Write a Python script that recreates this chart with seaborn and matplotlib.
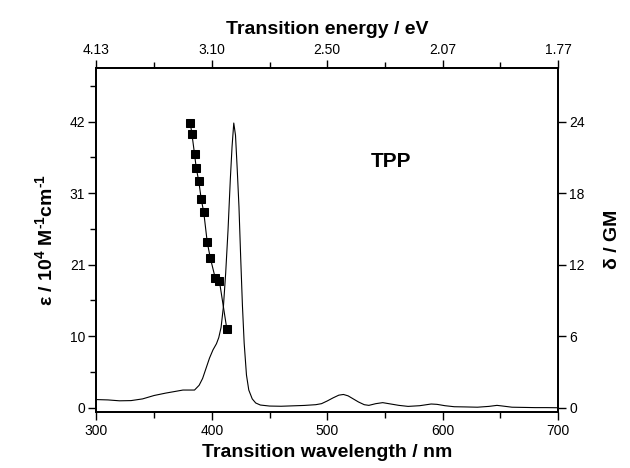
import matplotlib
matplotlib.use("Agg")
import matplotlib.pyplot as plt
import seaborn as sns
import pandas as pd
from matplotlib.ticker import FixedLocator, FixedFormatter

# One-photon absorption spectrum of TPP (molar extinction, 10^4 M^-1 cm^-1)
abs_wavelength = [300, 310, 320, 330, 340, 350, 360, 370, 375, 380, 385, 389, 392,
                  395, 398, 401, 404, 406, 408, 410, 412, 414, 416, 417.5, 419,
                  420.5, 422, 423.5, 425, 426.5, 428, 430, 432, 435, 438, 442, 450,
                  460, 470, 480, 490, 495, 500, 505, 510, 514, 518, 522, 527, 532,
                  536, 542, 548, 555, 562, 570, 580, 590, 595, 602, 610, 620, 630,
                  640, 647, 652, 660, 670, 680, 690, 700]
abs_epsilon = [1.2, 1.15, 1.02, 1.05, 1.3, 1.8, 2.15, 2.45, 2.6, 2.6, 2.6, 3.3, 4.3,
               5.8, 7.3, 8.5, 9.4, 10.3, 11.8, 14.8, 19.8, 26.0, 33.5, 38.3, 41.8,
               40.0, 35.0, 29.5, 22.0, 15.0, 9.5, 4.8, 2.6, 1.3, 0.7, 0.4, 0.25,
               0.22, 0.28, 0.34, 0.45, 0.6, 1.0, 1.45, 1.85, 1.95, 1.75, 1.35, 0.85,
               0.45, 0.35, 0.6, 0.75, 0.55, 0.35, 0.2, 0.3, 0.55, 0.5, 0.3, 0.15,
               0.12, 0.08, 0.2, 0.35, 0.25, 0.08, 0.05, 0.02, 0.02, 0.0]

# Two-photon absorption cross-section (GM), plotted at half the excitation wavelength
tpa_wavelength = [381.3, 382.7, 385.0, 386.5, 388.7, 390.8, 393.0, 396.0, 398.6,
                  402.9, 406.6, 413.0]
tpa_cross_section = [23.9, 23.0, 21.3, 20.1, 19.0, 17.5, 16.4, 13.9, 12.6, 10.9,
                     10.6, 6.6]

wl_ticks = [300, 400, 500, 600, 700]
wl_minor = [350, 450, 550, 650]
energy_labels = ["4.13", "3.10", "2.50", "2.07", "1.77"]
eps_ticks = [0, 10.5, 21, 31.5, 42]
eps_labels = ["0", "10", "21", "31", "42"]
eps_minor = [5.25, 15.75, 26.25, 36.75, 47.25]
gm_ticks = [0, 6, 12, 18, 24]

sns.set_theme(style="ticks")
plt.rcParams["font.family"] = ["Liberation Sans", "DejaVu Sans"]
plt.rcParams["text.color"] = "black"
plt.rcParams["axes.labelcolor"] = "black"
plt.rcParams["mathtext.fontset"] = "custom"
plt.rcParams["mathtext.rm"] = "Liberation Sans:bold"
plt.rcParams["mathtext.bf"] = "Liberation Sans:bold"
plt.rcParams["mathtext.default"] = "regular"

abs_df = pd.DataFrame({"wavelength": abs_wavelength, "epsilon": abs_epsilon})
tpa_df = pd.DataFrame({"wavelength": tpa_wavelength, "gm": tpa_cross_section})

fig = plt.figure(figsize=(6.3, 4.68), dpi=100)
ax = fig.add_axes([0.153, 0.12, 0.733, 0.735])

sns.lineplot(data=abs_df, x="wavelength", y="epsilon", ax=ax, color="black",
             linewidth=0.8, sort=False)

ax.set_xlim(300, 700)
ax.set_ylim(-0.6, 49.9)
ax.xaxis.set_major_locator(FixedLocator(wl_ticks))
ax.xaxis.set_minor_locator(FixedLocator(wl_minor))
ax.yaxis.set_major_locator(FixedLocator(eps_ticks))
ax.yaxis.set_major_formatter(FixedFormatter(eps_labels))
ax.yaxis.set_minor_locator(FixedLocator(eps_minor))

ax_r = ax.twinx()
sns.lineplot(data=tpa_df, x="wavelength", y="gm", ax=ax_r, color="black",
             linewidth=0.8, marker="s", markersize=6, markeredgecolor="black",
             markerfacecolor="black", sort=False)
ax_r.set_ylim(-0.6 / 1.75, 49.9 / 1.75)
ax_r.yaxis.set_major_locator(FixedLocator(gm_ticks))

ax_t = ax.twiny()
ax_t.set_xlim(300, 700)
ax_t.xaxis.set_major_locator(FixedLocator(wl_ticks))
ax_t.xaxis.set_major_formatter(FixedFormatter(energy_labels))
ax_t.xaxis.set_minor_locator(FixedLocator(wl_minor))

for a in (ax, ax_r, ax_t):
    for s in a.spines.values():
        s.set_visible(True)
        s.set_linewidth(1.1)
        s.set_color("black")
    a.tick_params(which="major", direction="out", length=6, width=1.0,
                  labelsize=10, colors="black", pad=2)
    a.tick_params(which="minor", direction="out", length=4, width=1.0,
                  colors="black")

ax.tick_params(axis="x", which="major", pad=3)

bold = dict(fontsize=14, fontweight="bold", color="black")
ax.set_xlabel("Transition wavelength / nm", labelpad=4, **bold)
ax.set_ylabel(r"ε / 10$^{4}$ M$^{‐1}$cm$^{‐1}$", labelpad=10, **bold)
ax_r.set_ylabel("δ / GM", labelpad=14, **bold)
ax_t.set_xlabel("Transition energy / eV", labelpad=6, **bold)

ax.text(538, 35.4, "TPP", fontsize=15, fontweight="bold", ha="left",
        va="baseline", color="black")

fig.savefig("out.png", dpi=100)
